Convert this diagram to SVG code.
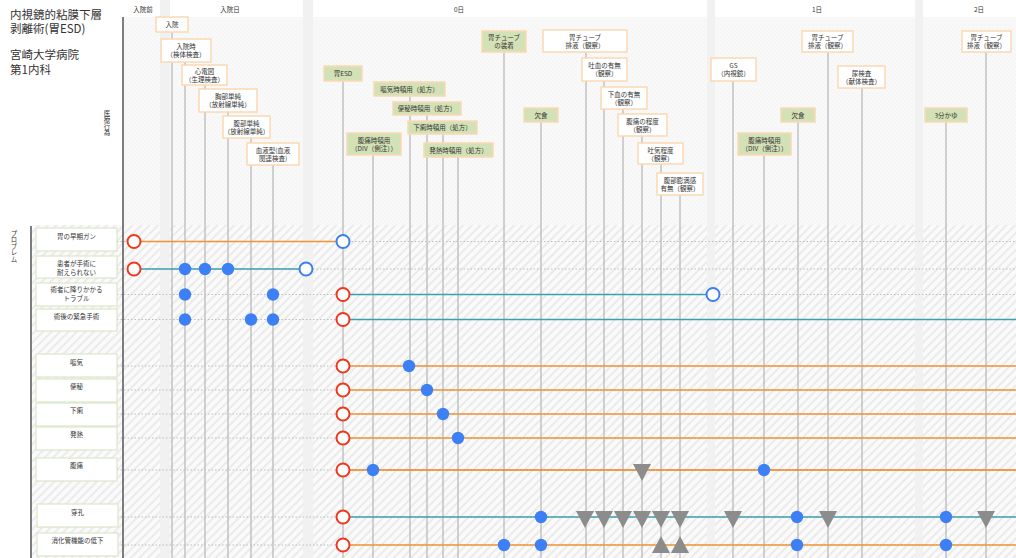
<svg xmlns="http://www.w3.org/2000/svg" xmlns:xlink="http://www.w3.org/1999/xlink" width="1016" height="558" viewBox="0 0 1016 558">
<defs>
<pattern id="dots" width="4" height="4" patternUnits="userSpaceOnUse"><rect width="4" height="4" fill="#f9f9f9"/><circle cx="1" cy="1" r="0.6" fill="#ececec"/><circle cx="3" cy="3" r="0.5" fill="#efefef"/></pattern>
<pattern id="hatch" width="6" height="6" patternUnits="userSpaceOnUse" patternTransform="rotate(45)"><rect width="6" height="6" fill="#fafafa"/><line x1="1" y1="0" x2="1" y2="6" stroke="#ebebeb" stroke-width="2"/></pattern>
<circle id="redO" r="6.5" fill="#fff" stroke="#f2361d" stroke-width="2"/>
<circle id="blueO" r="6.5" fill="#fff" stroke="#3b7ff0" stroke-width="2"/>
<circle id="blueF" r="6.2" fill="#3d80f5"/>
<polygon id="triD" points="-9,-6 9,-6 0,11" fill="#8c8c8c"/>
<polygon id="triU" points="0,-9 -9,8 9,8" fill="#8c8c8c"/>
<style>
text{font-family:"Noto Sans CJK JP","Noto Sans",sans-serif;fill:#333;}
.title{font-size:11.5px;}
.hd{font-size:6.5px;text-anchor:middle;}
.nt{font-size:6.5px;text-anchor:middle;}
.vt{font-size:6.5px;writing-mode:vertical-rl;}
.band{fill:#f1f1f1;}
.vl{stroke:#c2c2c2;stroke-width:1.5;}
.axis{stroke:#555;stroke-width:1.5;}
.rowd{stroke:#bdbdbd;stroke-width:1;stroke-dasharray:1.5 2;}
.nw{fill:#fff;stroke:#fcd9b3;stroke-width:1.5;}
.ng{fill:#d3e1b6;stroke:#fcd9b3;stroke-width:1.5;}
.pb{fill:#fff;stroke:#dbe8c8;stroke-width:1.2;}
.or{stroke:#f29433;stroke-width:1.5;}
.or2{stroke:#f0821e;stroke-width:1.5;}
.tl{stroke:#3c9fb4;stroke-width:1.5;}
</style>
</defs>

<g id="background">
<rect x="0" y="0" width="1016" height="558" fill="#fff"/>
<rect x="123" y="17" width="893" height="208" fill="url(#dots)"/>
<rect x="31" y="225" width="985" height="333" fill="url(#hatch)"/>
<rect class="band" x="160" y="0" width="10" height="558"/>
<rect class="band" x="303" y="0" width="10" height="558"/>
<rect class="band" x="707" y="0" width="8" height="558"/>
<rect class="band" x="915" y="0" width="8" height="558"/>
</g>

<g id="title">
<text class="title" x="10" y="19">内視鏡的粘膜下層</text>
<text class="title" x="10" y="33">剥離術(胃ESD)</text>
<text class="title" x="10" y="59">宮崎大学病院</text>
<text class="title" x="10" y="74">第1内科</text>
</g>

<g id="headers">
<text class="hd" x="143" y="12">入院前</text>
<text class="hd" x="230" y="12">入院日</text>
<text class="hd" x="459" y="12">0日</text>
<text class="hd" x="817" y="12">1日</text>
<text class="hd" x="979" y="12">2日</text>
<text class="vt" x="107" y="110">医療行為</text>
<text class="vt" x="14" y="230">プロブレム</text>
</g>

<g id="row-guides">
<line class="rowd" x1="117" y1="241.5" x2="1016" y2="241.5"/>
<line class="rowd" x1="117" y1="269" x2="1016" y2="269"/>
<line class="rowd" x1="117" y1="294.5" x2="1016" y2="294.5"/>
<line class="rowd" x1="117" y1="319.5" x2="1016" y2="319.5"/>
<line class="rowd" x1="117" y1="366" x2="1016" y2="366"/>
<line class="rowd" x1="117" y1="390" x2="1016" y2="390"/>
<line class="rowd" x1="117" y1="414" x2="1016" y2="414"/>
<line class="rowd" x1="117" y1="438" x2="1016" y2="438"/>
<line class="rowd" x1="117" y1="470" x2="1016" y2="470"/>
<line class="rowd" x1="117" y1="517" x2="1016" y2="517"/>
<line class="rowd" x1="117" y1="545" x2="1016" y2="545"/>
</g>

<g id="connectors">
<line class="vl" x1="172" y1="32" x2="172" y2="558"/>
<line class="vl" x1="185" y1="62" x2="185" y2="558"/>
<line class="vl" x1="205" y1="85" x2="205" y2="558"/>
<line class="vl" x1="228" y1="112" x2="228" y2="558"/>
<line class="vl" x1="251" y1="138" x2="251" y2="558"/>
<line class="vl" x1="273" y1="165" x2="273" y2="558"/>
<line class="vl" x1="343" y1="81" x2="343" y2="558"/>
<line class="vl" x1="410" y1="96" x2="410" y2="558"/>
<line class="vl" x1="427" y1="115" x2="427" y2="558"/>
<line class="vl" x1="443" y1="134" x2="443" y2="558"/>
<line class="vl" x1="458" y1="157" x2="458" y2="558"/>
<line class="vl" x1="373" y1="155" x2="373" y2="558"/>
<line class="vl" x1="504" y1="52" x2="504" y2="558"/>
<line class="vl" x1="586" y1="52" x2="586" y2="558"/>
<line class="vl" x1="541" y1="122" x2="541" y2="558"/>
<line class="vl" x1="604" y1="81" x2="604" y2="558"/>
<line class="vl" x1="623" y1="109" x2="623" y2="558"/>
<line class="vl" x1="642" y1="136" x2="642" y2="558"/>
<line class="vl" x1="661" y1="164" x2="661" y2="558"/>
<line class="vl" x1="680" y1="195" x2="680" y2="558"/>
<line class="vl" x1="733" y1="81" x2="733" y2="558"/>
<line class="vl" x1="764" y1="155" x2="764" y2="558"/>
<line class="vl" x1="798" y1="122" x2="798" y2="558"/>
<line class="vl" x1="828" y1="52" x2="828" y2="558"/>
<line class="vl" x1="862" y1="88" x2="862" y2="558"/>
<line class="vl" x1="986" y1="52" x2="986" y2="558"/>
<line class="vl" x1="946" y1="122" x2="946" y2="558"/>
<line class="axis" x1="123" y1="17" x2="123" y2="558"/>
<line class="axis" x1="31" y1="226" x2="31" y2="558"/>
</g>

<g id="n-nyuin"><rect class="nw" x="156" y="17" width="32" height="15"/><text class="nt" x="172" y="27">入院</text></g>
<g id="n-nyuinji"><rect class="nw" x="161" y="39" width="50" height="23"/><text class="nt" x="186" y="49">入院時</text><text class="nt" x="186" y="57">（検体検査）</text></g>
<g id="n-shindenzu"><rect class="nw" x="182" y="65" width="45" height="20"/><text class="nt" x="204.5" y="74">心電図</text><text class="nt" x="204.5" y="82">（生理検査）</text></g>
<g id="n-kyobu"><rect class="nw" x="199" y="89" width="58" height="23"/><text class="nt" x="228" y="99">胸部単純</text><text class="nt" x="228" y="107">（放射線単純）</text></g>
<g id="n-fukubu"><rect class="nw" x="223" y="116" width="47" height="22"/><text class="nt" x="246.5" y="126">腹部単純</text><text class="nt" x="246.5" y="134">（放射線単純）</text></g>
<g id="n-ketsueki"><rect class="nw" x="247" y="143" width="52" height="22"/><text class="nt" x="273" y="153">血液型(血液</text><text class="nt" x="273" y="161">関連検査)</text></g>
<g id="n-esd"><rect class="ng" x="324" y="66" width="38" height="15"/><text class="nt" x="343" y="76">胃ESD</text></g>
<g id="n-oki"><rect class="ng" x="374" y="82" width="71" height="14"/><text class="nt" x="409.5" y="91.5">嘔気時頓用（処方）</text></g>
<g id="n-benpi"><rect class="ng" x="393" y="102" width="68" height="13"/><text class="nt" x="427" y="111">便秘時頓用（処方）</text></g>
<g id="n-geri"><rect class="ng" x="408" y="121" width="69" height="13"/><text class="nt" x="442.5" y="130">下痢時頓用（処方）</text></g>
<g id="n-hatsunetsu"><rect class="ng" x="424" y="143" width="69" height="14"/><text class="nt" x="458.5" y="152.5">発熱時頓用（処方）</text></g>
<g id="n-fukutsu1"><rect class="ng" x="347" y="133" width="54" height="22"/><text class="nt" x="374" y="143">腹痛時頓用</text><text class="nt" x="374" y="151">（DIV（側注））</text></g>
<g id="n-tube-sochaku"><rect class="ng" x="482" y="31" width="44" height="21"/><text class="nt" x="504" y="40">胃チューブ</text><text class="nt" x="504" y="48">の装着</text></g>
<g id="n-tube1"><rect class="nw" x="543" y="30" width="84" height="22"/><text class="nt" x="585" y="40">胃チューブ</text><text class="nt" x="585" y="48">排液（観察）</text></g>
<g id="n-kesshoku1"><rect class="ng" x="524" y="108" width="34" height="14"/><text class="nt" x="541" y="117.5">欠食</text></g>
<g id="n-toketsu"><rect class="nw" x="582" y="58" width="45" height="23"/><text class="nt" x="604.5" y="68">吐血の有無</text><text class="nt" x="604.5" y="76">（観察）</text></g>
<g id="n-geketsu"><rect class="nw" x="601" y="87" width="46" height="22"/><text class="nt" x="624" y="97">下血の有無</text><text class="nt" x="624" y="105">（観察）</text></g>
<g id="n-fukutsu-teido"><rect class="nw" x="618" y="114" width="49" height="22"/><text class="nt" x="642.5" y="124">腹痛の程度</text><text class="nt" x="642.5" y="132">（観察）</text></g>
<g id="n-hakike"><rect class="nw" x="638" y="143" width="45" height="21"/><text class="nt" x="660.5" y="152.5">吐気程度</text><text class="nt" x="660.5" y="160.5">（観察）</text></g>
<g id="n-bomankan"><rect class="nw" x="657" y="173" width="46" height="22"/><text class="nt" x="680" y="183">腹部膨満感</text><text class="nt" x="680" y="191">有無（観察）</text></g>
<g id="n-gs"><rect class="nw" x="711" y="58" width="45" height="23"/><text class="nt" x="733.5" y="68">GS</text><text class="nt" x="733.5" y="76">（内視鏡）</text></g>
<g id="n-fukutsu2"><rect class="ng" x="738" y="133" width="53" height="22"/><text class="nt" x="764.5" y="143">腹痛時頓用</text><text class="nt" x="764.5" y="151">（DIV（側注））</text></g>
<g id="n-kesshoku2"><rect class="ng" x="781" y="108" width="34" height="14"/><text class="nt" x="798" y="117.5">欠食</text></g>
<g id="n-tube2"><rect class="nw" x="802" y="31" width="51" height="21"/><text class="nt" x="827.5" y="40">胃チューブ</text><text class="nt" x="827.5" y="48">排液（観察）</text></g>
<g id="n-nyokensa"><rect class="nw" x="838" y="66" width="47" height="22"/><text class="nt" x="861.5" y="76">尿検査</text><text class="nt" x="861.5" y="84">（献体検査）</text></g>
<g id="n-tube3"><rect class="nw" x="962" y="31" width="49" height="21"/><text class="nt" x="986.5" y="40">胃チューブ</text><text class="nt" x="986.5" y="48">排液（観察）</text></g>
<g id="n-kayu"><rect class="ng" x="925" y="108" width="42" height="14"/><text class="nt" x="946" y="117.5">3分かゆ</text></g>

<g id="p-gan"><rect class="pb" x="36" y="228" width="81" height="23"/><text class="nt" x="76.5" y="239">胃の早期ガン</text></g>
<g id="p-taerarenai"><rect class="pb" x="36" y="256" width="81" height="22"/><text class="nt" x="76.5" y="265.5">患者が手術に</text><text class="nt" x="76.5" y="274.5">耐えられない</text></g>
<g id="p-trouble"><rect class="pb" x="36" y="283" width="81" height="23"/><text class="nt" x="76.5" y="292">術者に降りかかる</text><text class="nt" x="76.5" y="301">トラブル</text></g>
<g id="p-kinkyu"><rect class="pb" x="36" y="309" width="81" height="22"/><text class="nt" x="76.5" y="319">術後の緊急手術</text></g>
<g id="p-oki"><rect class="pb" x="36" y="354" width="81" height="23"/><text class="nt" x="76.5" y="365">嘔気</text></g>
<g id="p-benpi"><rect class="pb" x="36" y="379" width="81" height="23"/><text class="nt" x="76.5" y="389">便秘</text></g>
<g id="p-geri"><rect class="pb" x="36" y="403" width="81" height="23"/><text class="nt" x="76.5" y="413">下痢</text></g>
<g id="p-hatsunetsu"><rect class="pb" x="36" y="427" width="81" height="23"/><text class="nt" x="76.5" y="437">発熱</text></g>
<g id="p-fukutsu"><rect class="pb" x="36" y="458" width="81" height="23"/><text class="nt" x="76.5" y="468">腹痛</text></g>
<g id="p-senko"><rect class="pb" x="37" y="504" width="81" height="23"/><text class="nt" x="77.5" y="515">穿孔</text></g>
<g id="p-shokakan"><rect class="pb" x="37" y="533" width="81" height="23"/><text class="nt" x="77.5" y="543">消化管機能の低下</text></g>

<g id="timelines">
<line class="or" x1="134" y1="241.5" x2="343" y2="241.5"/>
<line class="tl" x1="134" y1="269" x2="306" y2="269"/>
<line class="tl" x1="343" y1="294.5" x2="713" y2="294.5"/>
<line class="tl" x1="343" y1="319.5" x2="1016" y2="319.5"/>
<line class="or" x1="343" y1="366" x2="1016" y2="366"/>
<line class="or" x1="343" y1="390" x2="1016" y2="390"/>
<line class="or" x1="343" y1="414" x2="1016" y2="414"/>
<line class="or" x1="343" y1="438" x2="1016" y2="438"/>
<line class="or2" x1="343" y1="470" x2="1016" y2="470"/>
<line class="tl" x1="343" y1="517" x2="1016" y2="517"/>
<line class="or" x1="343" y1="545" x2="1016" y2="545"/>
</g>

<g id="markers">
<use href="#redO" x="134" y="241.5"/>
<use href="#blueO" x="343" y="241.5"/>
<use href="#redO" x="134" y="269"/>
<use href="#blueF" x="185" y="269"/>
<use href="#blueF" x="205" y="269"/>
<use href="#blueF" x="228" y="269"/>
<use href="#blueO" x="306" y="269"/>
<use href="#blueF" x="185" y="294.5"/>
<use href="#blueF" x="273" y="294.5"/>
<use href="#redO" x="343" y="294.5"/>
<use href="#blueO" x="713" y="294.5"/>
<use href="#blueF" x="185" y="319.5"/>
<use href="#blueF" x="251" y="319.5"/>
<use href="#blueF" x="273" y="319.5"/>
<use href="#redO" x="343" y="319.5"/>
<use href="#redO" x="343" y="366"/>
<use href="#blueF" x="409" y="366"/>
<use href="#redO" x="343" y="390"/>
<use href="#blueF" x="427" y="390"/>
<use href="#redO" x="343" y="414"/>
<use href="#blueF" x="443" y="414"/>
<use href="#redO" x="343" y="438"/>
<use href="#blueF" x="458" y="438"/>
<use href="#redO" x="343" y="470"/>
<use href="#blueF" x="373" y="470"/>
<use href="#triD" x="642" y="470"/>
<use href="#blueF" x="764" y="470"/>
<use href="#redO" x="343" y="517"/>
<use href="#blueF" x="541" y="517"/>
<use href="#triD" x="585" y="517"/>
<use href="#triD" x="604" y="517"/>
<use href="#triD" x="623" y="517"/>
<use href="#triD" x="642" y="517"/>
<use href="#triD" x="661" y="517"/>
<use href="#triD" x="680" y="517"/>
<use href="#triD" x="733" y="517"/>
<use href="#blueF" x="797" y="517"/>
<use href="#triD" x="828" y="517"/>
<use href="#blueF" x="946" y="517"/>
<use href="#triD" x="986" y="517"/>
<use href="#redO" x="343" y="545"/>
<use href="#blueF" x="504" y="545"/>
<use href="#blueF" x="541" y="545"/>
<use href="#triU" x="661" y="545"/>
<use href="#triU" x="680" y="545"/>
<use href="#blueF" x="797" y="545"/>
<use href="#blueF" x="946" y="545"/>
</g>
</svg>
